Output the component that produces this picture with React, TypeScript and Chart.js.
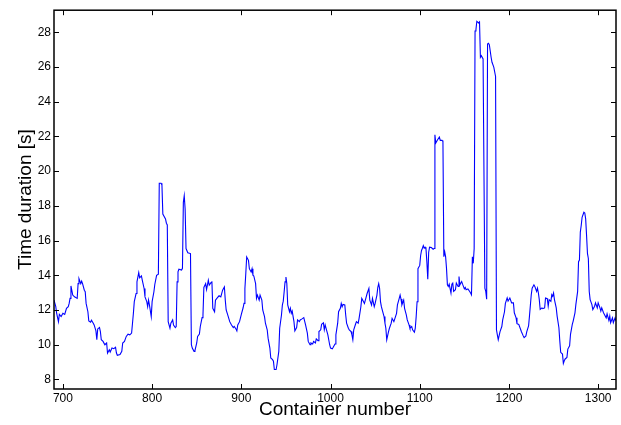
import React, { useEffect, useRef } from "react";
import { Chart, registerables } from "chart.js";

Chart.register(...registerables);

// Container number (x) and time duration in seconds (y)
const containers = [
  690, 692, 693, 695, 696, 698, 700, 702, 704, 706, 707, 708, 709, 711, 713, 716, 717, 718, 720, 721,
  722, 724, 725, 726, 728, 729, 731, 732, 734, 735, 737, 738, 739, 741, 742, 743, 745, 747, 749, 750,
  752, 753, 755, 757, 759, 760, 761, 764, 766, 767, 769, 771, 773, 775, 777, 778, 779, 780, 782, 783,
  785, 786, 788, 789, 791, 792, 794, 795, 796, 797, 799, 800, 802, 803, 805, 807, 808, 810, 811, 812,
  815, 816, 817, 818, 820, 821, 823, 824, 826, 827, 828, 829, 830, 833, 834, 835, 836, 837, 838, 840,
  843, 844, 845, 847, 848, 850, 851, 853, 854, 856, 857, 858, 860, 861, 863, 864, 866, 867, 868, 870,
  871, 873, 875, 877, 879, 881, 882, 883, 885, 887, 889, 891, 892, 894, 895, 896, 898, 900, 902, 903,
  904, 905, 906, 908, 909, 911, 912, 913, 914, 916, 917, 918, 920, 921, 923, 924, 926, 927, 929, 930,
  932, 933, 935, 936, 937, 939, 940, 942, 943, 945, 946, 947, 948, 949, 950, 951, 952, 954, 955, 956,
  957, 959, 960, 962, 963, 965, 966, 968, 970, 972, 974, 975, 977, 978, 980, 981, 983, 984, 986, 987,
  989, 990, 992, 993, 994, 996, 997, 999, 1000, 1002, 1003, 1005, 1006, 1008, 1009, 1011, 1012, 1013, 1014, 1016,
  1017, 1018, 1020, 1021, 1023, 1024, 1025, 1026, 1028, 1029, 1031, 1032, 1034, 1035, 1037, 1038, 1040, 1041, 1043, 1044,
  1046, 1047, 1049, 1050, 1052, 1053, 1054, 1055, 1056, 1057, 1059, 1060, 1061, 1062, 1063, 1065, 1066, 1068, 1069, 1071,
  1072, 1074, 1075, 1077, 1078, 1079, 1080, 1082, 1083, 1085, 1086, 1088, 1089, 1091, 1092, 1094, 1095, 1096, 1097, 1098,
  1100, 1101, 1102, 1103, 1104, 1105, 1106, 1107, 1108, 1109, 1110, 1111, 1113, 1115, 1116, 1117, 1118, 1120, 1122, 1123,
  1125, 1126, 1127, 1128, 1129, 1130, 1131, 1132, 1133, 1135, 1136, 1137, 1138, 1140, 1141, 1143, 1144, 1145, 1147, 1148,
  1150, 1151, 1152, 1154, 1156, 1157, 1158, 1159, 1160, 1161, 1162, 1163, 1164, 1166, 1167, 1168, 1169, 1171, 1172, 1173,
  1174, 1175, 1176, 1177, 1178, 1180, 1181, 1183, 1185, 1186, 1187, 1188, 1190, 1192, 1193, 1195, 1196, 1198, 1199, 1201,
  1203, 1205, 1206, 1208, 1209, 1211, 1213, 1214, 1216, 1217, 1219, 1220, 1222, 1223, 1225, 1226, 1228, 1229, 1231, 1232,
  1233, 1234, 1235, 1237, 1238, 1240, 1241, 1243, 1244, 1245, 1247, 1248, 1249, 1250, 1251, 1253, 1254, 1256, 1257, 1258,
  1260, 1261, 1262, 1263, 1265, 1266, 1268, 1269, 1271, 1272, 1274, 1275, 1277, 1278, 1279, 1280, 1281, 1282, 1284, 1285,
  1286, 1287, 1288, 1289, 1290, 1291, 1293, 1294, 1296, 1297, 1299, 1300, 1302, 1303, 1304, 1306, 1307, 1309, 1310, 1312,
  1313, 1314, 1316, 1317, 1319, 1320,
];

const durations = [
  12.57, 12.19, 11.8, 11.33, 11.75, 11.62, 11.81, 11.75, 12.1, 12.19, 12.38, 12.67, 13.39, 12.86, 12.76, 12.67, 13.52, 13.81, 13.52, 13.66,
  13.52, 13.14, 13.05, 12.38, 11.9, 11.37, 11.3, 11.41, 11.24, 11.14, 10.8, 10.29, 10.91, 10.99, 10.76, 10.29, 10.19, 10.0, 10.1, 9.52,
  9.71, 9.58, 9.81, 9.77, 9.85, 9.52, 9.39, 9.43, 9.62, 10.1, 10.19, 10.48, 10.61, 10.57, 10.67, 11.24, 11.81, 12.48, 12.95, 13.62,
  14.15, 13.85, 13.96, 13.71, 13.24, 12.76, 12.48, 12.19, 12.57, 12.29, 11.62, 12.48, 13.05, 13.47, 14.0, 14.06, 19.3, 19.3, 19.2, 17.53,
  17.25, 17.0, 16.9, 11.33, 10.95, 11.24, 11.43, 11.14, 10.99, 11.05, 13.62, 14.2, 14.35, 14.3, 14.4, 18.2, 18.58, 17.82, 15.54, 15.3,
  15.25, 10.0, 9.81, 9.62, 9.66, 10.1, 10.48, 10.61, 11.05, 11.56, 11.71, 13.3, 13.52, 13.18, 13.71, 13.43, 13.58, 13.66, 12.1, 11.9,
  12.57, 12.7, 12.82, 12.76, 13.14, 13.33, 12.57, 12.0, 11.68, 11.33, 11.14, 10.99, 11.05, 10.91, 10.8, 11.14, 11.33, 11.75, 12.13, 12.38,
  13.24, 14.1, 15.05, 14.86, 14.38, 14.19, 14.38, 14.0, 13.96, 13.52, 12.67, 12.86, 12.57, 12.86, 12.57, 12.0, 11.62, 11.24, 10.86, 10.38,
  9.81, 9.24, 9.14, 9.05, 8.57, 8.57, 8.86, 9.62, 10.95, 11.71, 12.29, 12.51, 13.05, 13.62, 13.9, 13.52, 12.29, 11.9, 12.1, 11.81,
  11.94, 11.33, 10.8, 10.99, 11.43, 11.33, 11.43, 11.49, 11.56, 11.14, 10.67, 10.19, 10.0, 10.1, 10.04, 10.19, 10.1, 10.34, 10.23, 10.76,
  10.86, 11.18, 11.26, 10.86, 11.14, 10.76, 10.57, 10.0, 9.81, 9.77, 9.85, 10.04, 10.57, 11.24, 11.9, 12.1, 12.38, 12.19, 12.32, 12.29,
  11.71, 11.24, 10.95, 10.86, 10.76, 10.57, 10.29, 10.86, 11.18, 11.33, 11.24, 11.52, 12.19, 12.67, 12.48, 12.38, 12.76, 12.95, 13.24, 12.57,
  12.29, 12.67, 12.19, 12.38, 12.86, 13.3, 13.52, 13.24, 12.48, 12.19, 11.81, 11.62, 11.24, 10.95, 10.29, 10.76, 10.95, 11.24, 11.52, 11.33,
  11.49, 11.81, 12.29, 12.67, 12.86, 12.63, 12.29, 12.57, 12.1, 11.71, 11.43, 11.14, 10.95, 11.05, 10.86, 10.72, 10.95, 11.62, 12.48, 14.38,
  14.57, 15.14, 15.43, 15.56, 15.71, 15.56, 15.62, 15.52, 14.76, 13.77, 15.33, 15.62, 15.6, 15.5, 15.54, 22.09, 21.62, 21.81, 21.96, 21.77,
  21.77, 21.71, 15.07, 15.35, 15.07, 14.4, 13.45, 13.36, 13.49, 12.98, 13.49, 13.55, 13.07, 13.17, 13.55, 13.36, 13.93, 13.45, 13.64, 13.49,
  13.22, 13.3, 13.17, 13.22, 13.07, 12.98, 12.88, 15.07, 14.69, 15.54, 28.07, 28.16, 28.63, 28.54, 28.6, 26.56, 26.65, 26.46, 26.46, 13.26,
  13.07, 12.62, 27.32, 27.36, 27.28, 26.56, 26.27, 25.99, 25.45, 10.86, 10.57, 10.29, 10.76, 11.05, 11.43, 11.9, 12.38, 12.7, 12.51, 12.69,
  12.41, 12.41, 11.84, 11.55, 11.21, 11.17, 10.89, 10.75, 10.51, 10.41, 10.51, 10.75, 11.08, 11.65, 12.88, 13.26, 13.45, 13.36, 13.07, 13.26,
  12.98, 12.6, 12.03, 12.12, 12.08, 12.12, 12.69, 12.65, 12.22, 12.6, 12.5, 12.88, 12.79, 12.98, 12.6, 12.12, 11.65, 10.98, 10.22, 9.56,
  9.46, 8.93, 9.08, 9.18, 9.27, 9.75, 9.94, 10.6, 11.17, 11.36, 11.84, 12.31, 13.07, 14.78, 14.88, 16.49, 16.87, 17.34, 17.63, 17.59,
  17.25, 16.3, 15.26, 14.97, 13.07, 12.6, 12.31, 12.03, 12.22, 12.41, 12.12, 12.41, 12.12, 11.93, 12.12, 11.84, 11.74, 11.55, 11.78, 11.4,
  11.65, 11.27, 11.55, 11.27, 11.55, 11.36,
];

const xTickValues = [700, 800, 900, 1000, 1100, 1200, 1300];
const yTickValues = [8, 10, 12, 14, 16, 18, 20, 22, 24, 26, 28];
const xLimits = [690, 1320];
const yLimits = [7.45, 29.27];

const FONT = "'Liberation Sans', Arial, Helvetica, sans-serif";

const matlabBox = {
  id: "matlabBox",
  afterDraw(chart: any) {
    const { ctx, chartArea: a, scales } = chart;
    const len = 5;
    ctx.save();
    ctx.strokeStyle = "#000";
    ctx.lineWidth = 1;
    ctx.beginPath();
    scales.x.ticks.forEach((t: any) => {
      const p = Math.round(scales.x.getPixelForValue(t.value)) + 0.5;
      ctx.moveTo(p, a.bottom);
      ctx.lineTo(p, a.bottom - len);
      ctx.moveTo(p, a.top);
      ctx.lineTo(p, a.top + len);
    });
    scales.y.ticks.forEach((t: any) => {
      const p = Math.round(scales.y.getPixelForValue(t.value)) + 0.5;
      ctx.moveTo(a.left, p);
      ctx.lineTo(a.left + len, p);
      ctx.moveTo(a.right, p);
      ctx.lineTo(a.right - len, p);
    });
    ctx.stroke();
    ctx.lineWidth = 1.5;
    ctx.strokeRect(a.left, a.top, a.right - a.left, a.bottom - a.top);
    ctx.restore();
  },
};

export default function App() {
  const canvasRef = useRef<HTMLCanvasElement | null>(null);

  useEffect(() => {
    if (!canvasRef.current) return;
    const points = containers.map((c, i) => ({ x: c, y: durations[i] }));
    const chart = new Chart(canvasRef.current, {
      type: "line",
      data: {
        datasets: [
          {
            data: points,
            borderColor: "#0000ff",
            borderWidth: 1.1,
            pointRadius: 0,
            tension: 0,
            fill: false,
          },
        ],
      },
      options: {
        responsive: false,
        animation: false,
        layout: { padding: { left: 0, right: 5, top: 6, bottom: 0 } },
        plugins: { legend: { display: false }, tooltip: { enabled: false } },
        scales: {
          x: {
            type: "linear",
            min: xLimits[0],
            max: xLimits[1],
            grid: { display: false, drawTicks: false },
            border: { display: false },
            afterBuildTicks: (s: any) => {
              s.ticks = xTickValues.map((v) => ({ value: v }));
            },
            afterFit: (s: any) => {
              s.height = 36;
            },
            ticks: {
              padding: 2,
              color: "#000",
              font: { family: FONT, size: 12 },
              maxRotation: 0,
              autoSkip: false,
              callback: (v: any) => String(v),
            },
            title: {
              display: true,
              text: "Container number",
              color: "#000",
              font: { family: FONT, size: 19 },
              padding: { top: 0, bottom: 4 },
            },
          },
          y: {
            type: "linear",
            min: yLimits[0],
            max: yLimits[1],
            grid: { display: false, drawTicks: false },
            border: { display: false },
            afterBuildTicks: (s: any) => {
              s.ticks = yTickValues.map((v) => ({ value: v }));
            },
            afterFit: (s: any) => {
              s.width = 54;
            },
            ticks: {
              padding: 3,
              color: "#000",
              font: { family: FONT, size: 12 },
              autoSkip: false,
              callback: (v: any) => String(v),
            },
            title: {
              display: true,
              text: "Time duration [s]",
              color: "#000",
              font: { family: FONT, size: 19 },
              padding: { top: 14, bottom: 0 },
            },
          },
        },
      },
      plugins: [matlabBox],
    });
    return () => chart.destroy();
  }, []);

  return (
    <div style={{ position: "absolute", left: 0, top: 0, width: 621, height: 425, background: "#fff" }}>
      <canvas ref={canvasRef} width={621} height={425} style={{ display: "block" }} />
    </div>
  );
}
